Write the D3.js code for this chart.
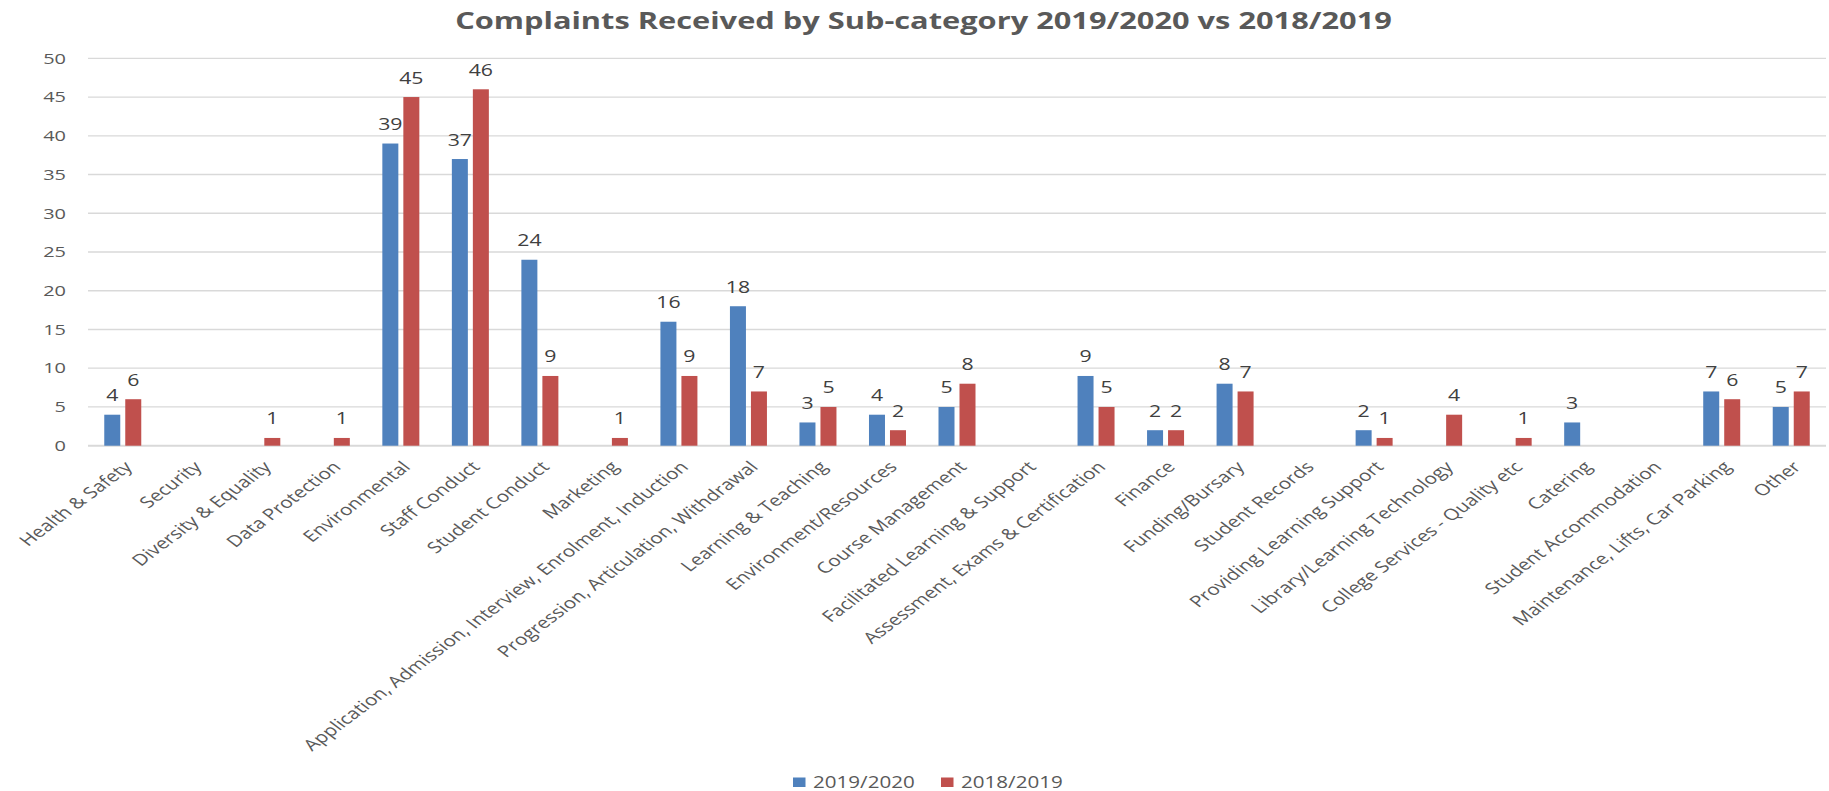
<!DOCTYPE html>
<html>
<head>
<meta charset="utf-8">
<script src="https://cdn.jsdelivr.net/npm/d3@7"></script>
<style>
  body { margin: 0; background: #fff; }
  text { font-family: "Open Sans", sans-serif; }
</style>
</head>
<body>
<div id="chart"></div>
<script>
// data, null = no bar
const categories = [
  "Health & Safety", "Security", "Diversity & Equality", "Data Protection", "Environmental",
  "Staff Conduct", "Student Conduct", "Marketing", "Application, Admission, Interview, Enrolment, Induction",
  "Progression, Articulation, Withdrawal", "Learning & Teaching", "Environment/Resources",
  "Course Management", "Facilitated Learning & Support", "Assessment, Exams & Certification",
  "Finance", "Funding/Bursary", "Student Records", "Providing Learning Support",
  "Library/Learning Technology", "College Services - Quality etc", "Catering",
  "Student Accommodation", "Maintenance, Lifts, Car Parking", "Other"
];
const values2019_2020 = [4, null, null, null, 39, 37, 24, null, 16, 18, 3, 4, 5, null, 9, 2, 8, null, 2, null, null, 3, null, 7, 5];
const values2018_2019 = [6, null, 1, 1, 45, 46, 9, 1, 9, 7, 5, 2, 8, null, 5, 2, 7, null, 1, 4, 1, null, null, 6, 7];
const seriesNames = ["2019/2020", "2018/2019"];
const seriesColors = ["#4F81BD", "#C0504D"];
const yTicks = [0, 5, 10, 15, 20, 25, 30, 35, 40, 45, 50];

let width = 1829, height = 791;
const sx = 1.33; // the original picture is stretched sideways, so text is too
const plot = { left: 88, right: 1826, top: 58.3, bottom: 445.7 };

const svg = d3.select("#chart")
  .append("svg")
  .attr("width", width)
  .attr("height", height);

let x = d3.scaleBand()
  .domain(categories)
  .range([plot.left, plot.right]);

let y = d3.scaleLinear()
  .domain([0, 50])
  .range([plot.bottom, plot.top]);

// gridlines
svg.append("g")
  .selectAll("line")
  .data(yTicks)
  .join("line")
  .attr("x1", plot.left)
  .attr("x2", plot.right)
  .attr("y1", d => y(d))
  .attr("y2", d => y(d))
  .attr("stroke", "#d9d9d9")
  .attr("stroke-width", d => d === 0 ? 2 : 1.3);

// y tick labels
svg.append("g")
  .selectAll("text")
  .data(yTicks)
  .join("text")
  .attr("transform", d => `translate(66,${y(d)}) scale(${sx},1)`)
  .attr("dy", "0.35em")
  .attr("text-anchor", "end")
  .attr("fill", "#595959")
  .style("font-size", "15px")
  .text(d => d);

// bars
const series = [values2019_2020, values2018_2019];
const barW = 16, offsets = [-10.5, 10.5];
const rows = [];
series.forEach((vals, i) => {
  vals.forEach((v, j) => {
    if (v != null) rows.push({ s: i, cat: categories[j], v: v });
  });
});
const cx = d => x(d.cat) + x.bandwidth() / 2 + offsets[d.s];

svg.append("g")
  .selectAll("rect")
  .data(rows)
  .join("rect")
  .attr("x", d => cx(d) - barW / 2)
  .attr("y", d => y(d.v))
  .attr("width", barW)
  .attr("height", d => y(0) - y(d.v))
  .attr("fill", d => seriesColors[d.s]);

// value labels
svg.append("g")
  .selectAll("text")
  .data(rows)
  .join("text")
  .attr("transform", d => `translate(${cx(d)},${y(d.v) - 13.5}) scale(${sx},1)`)
  .attr("text-anchor", "middle")
  .attr("fill", "#404040")
  .style("font-size", "16px")
  .text(d => d.v);

// category labels, rotated
svg.append("g")
  .selectAll("text")
  .data(categories)
  .join("text")
  .attr("transform", d => `translate(${x(d) + x.bandwidth() / 2 + 5.5},464) scale(${sx},1) rotate(-45)`)
  .attr("dy", "0.35em")
  .attr("text-anchor", "end")
  .attr("fill", "#595959")
  .style("font-size", "15.6px")
  .text(d => d);

// title, fitted to the width it has in the picture
const title = svg.append("text")
  .attr("text-anchor", "middle")
  .attr("fill", "#595959")
  .style("font-size", "23.5px")
  .style("font-weight", "bold")
  .text("Complaints Received by Sub-category 2019/2020 vs 2018/2019");
const tw = title.node().getComputedTextLength();
title.attr("transform", `translate(923.5,28.5) scale(${937 / tw},1)`);

// legend
const legend = svg.append("g")
  .selectAll("g")
  .data(seriesNames)
  .join("g")
  .attr("transform", (d, i) => `translate(${793 + i * 148},0)`);

legend.append("rect")
  .attr("x", 0)
  .attr("y", 777.5)
  .attr("width", 12.5)
  .attr("height", 9.5)
  .attr("fill", (d, i) => seriesColors[i]);

legend.append("text")
  .attr("transform", `translate(20,787.5) scale(${sx},1)`)
  .attr("fill", "#595959")
  .style("font-size", "15.5px")
  .text(d => d);
</script>
</body>
</html>
